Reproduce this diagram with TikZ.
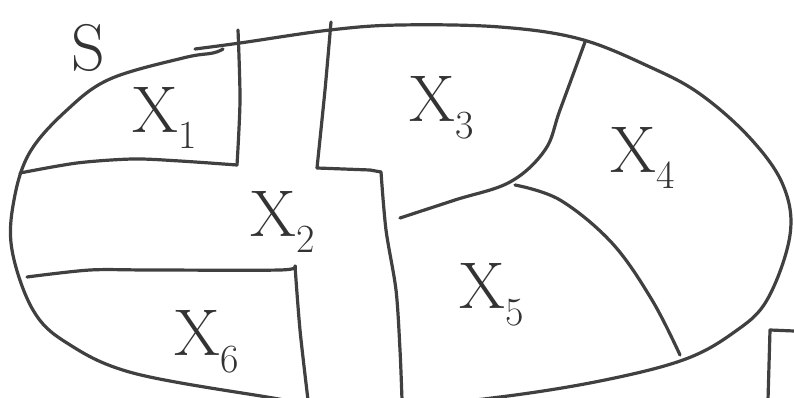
\documentclass[tikz,border=0pt]{standalone}
\begin{document}
\begin{tikzpicture}[x=1pt,y=-1pt,
  ink/.style={draw=black!75,line width=3.2pt,line cap=round,line join=round},
  lbl/.style={font=\fontsize{66}{70}\selectfont,text=black!80,inner sep=0pt}]
\useasboundingbox (0,0) rectangle (794,398);
\clip (0,0) rectangle (794,398);
% outer boundary
\draw[ink] plot[smooth,tension=0.6] coordinates {(195,49) (240,43) (330,30) (400,25) (500,27) (580,39) (650,67) (700,94) (750,138) (783,185) (790,235) (767,300) (733,333) (683,360) (600,381) (500,397) (400,406) (300,401) (267,397) (133,373) (67,343) (33,310) (12,250) (14,200) (30,152) (67,110) (110,79) (183,58) (213,53) (223,49)};
% X1 box
\draw[ink] plot[smooth,tension=0.5] coordinates {(238,30) (240,100) (237,165)};
\draw[ink] plot[smooth,tension=0.5] coordinates {(237,165) (180,161) (133,159) (77,163) (20,173)};
% X2 / X3 divider
\draw[ink] plot[smooth,tension=0.4] coordinates {(331,22) (325,90) (317,168)};
\draw[ink] (317,168) -- (370,170) -- (381,172);
\draw[ink] plot[smooth,tension=0.5] coordinates {(381,172) (386,230) (396,290) (400,350) (402,400)};
% X3 / X5 / X4 dividers
\draw[ink] plot[smooth,tension=0.6] coordinates {(400,218) (455,200) (510,182) (545,150) (560,110) (585,42)};
\draw[ink] plot[smooth,tension=0.6] coordinates {(515,185) (560,200) (612,243) (652,300) (680,355)};
% X6 box
\draw[ink] plot[smooth,tension=0.5] coordinates {(27,277) (90,270) (150,270) (280,270) (295,266)};
\draw[ink] plot[smooth,tension=0.5] coordinates {(295,266) (300,330) (308,400)};
% corner mark at bottom right
\draw[ink] (768,400) -- (770,330) -- (794,331);
% labels
\node[lbl] (s) at (88,48) {S};
\node[lbl] (x1) at (165,118) {X\raisebox{-0.25em}{\fontsize{40}{40}\selectfont 1}};
\node[lbl] (x2) at (283,222) {X\raisebox{-0.25em}{\fontsize{40}{40}\selectfont 2}};
\node[lbl] (x3) at (442,108) {X\raisebox{-0.25em}{\fontsize{40}{40}\selectfont 3}};
\node[lbl] (x4) at (643,158) {X\raisebox{-0.25em}{\fontsize{40}{40}\selectfont 4}};
\node[lbl] (x5) at (492,295) {X\raisebox{-0.25em}{\fontsize{40}{40}\selectfont 5}};
\node[lbl] (x6) at (207,342) {X\raisebox{-0.25em}{\fontsize{40}{40}\selectfont 6}};
\end{tikzpicture}
\end{document}
